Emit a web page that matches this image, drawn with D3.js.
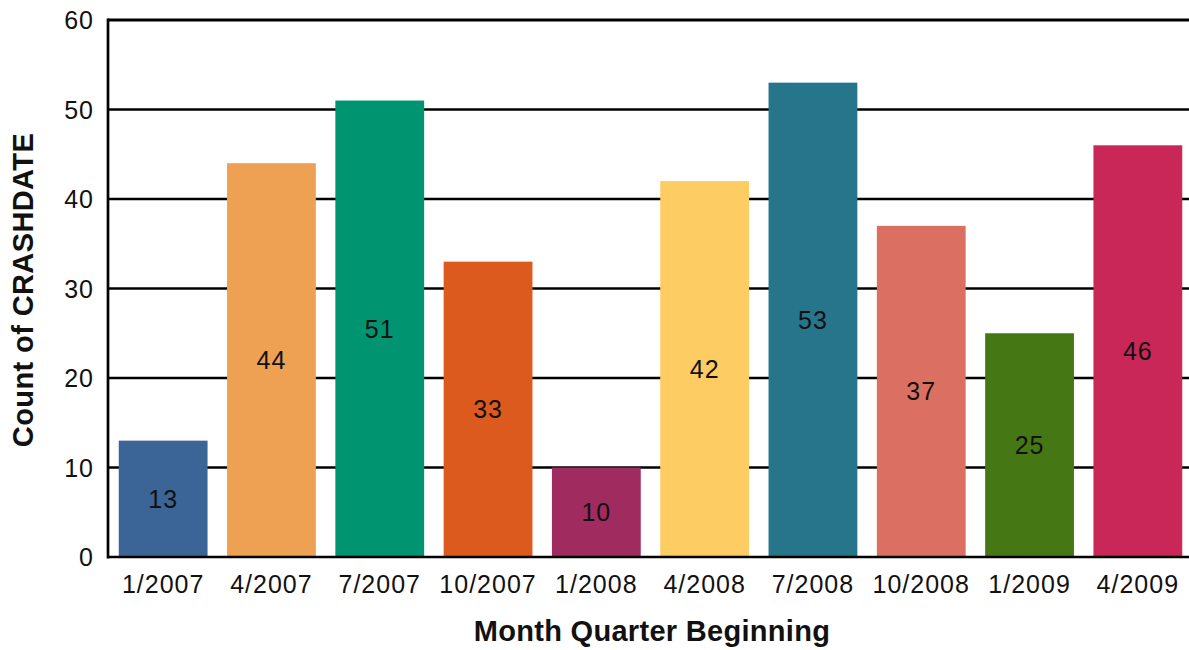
<!DOCTYPE html>
<html><head><meta charset="utf-8">
<script src="https://cdn.jsdelivr.net/npm/d3@7"></script>
<style>body{margin:0;background:#fff}svg{display:block}text{font-family:"Liberation Sans",Arial,sans-serif}</style>
</head><body><svg id="c" width="1189" height="650"></svg>
<script>
const categories = ["1/2007","4/2007","7/2007","10/2007","1/2008","4/2008","7/2008","10/2008","1/2009","4/2009"];
const values = [13,44,51,33,10,42,53,37,25,46];
const colors = ["#3b6596","#eea152","#009470","#dd5a1f","#a02b5f","#fdcc62","#27758a","#db7062","#467715","#c82757"];
const yTicks = [0,10,20,30,40,50,60];

const svg = d3.select("#c");
const L = 108, T = 20, B = 557, R = 1189;
const x = d3.scaleBand().domain(categories).range([109, 1192]).paddingInner(0.18).paddingOuter(0.09);
const y = d3.scaleLinear().domain([0,60]).range([B, T]);

// gridlines
svg.append("g").selectAll("line").data(yTicks.filter(d=>d>0)).join("line")
  .attr("x1", L).attr("x2", R).attr("y1", d=>y(d)).attr("y2", d=>y(d))
  .attr("stroke", "#000").attr("stroke-width", d=>d===60?3:2.5);

// bars
svg.append("g").selectAll("rect").data(values).join("rect")
  .attr("x", (d,i)=>x(categories[i])).attr("width", x.bandwidth())
  .attr("y", d=>y(d)).attr("height", d=>B - y(d))
  .attr("fill", (d,i)=>colors[i]);

// value labels
svg.append("g").selectAll("text").data(values).join("text")
  .attr("x", (d,i)=>x(categories[i]) + x.bandwidth()/2)
  .attr("y", d=>(y(d)+B)/2 + 9)
  .attr("text-anchor","middle").attr("font-size",25).attr("letter-spacing",1)
  .attr("fill","#111").text(d=>d);

// axes lines
svg.append("line").attr("x1",L).attr("x2",L).attr("y1",T-1.5).attr("y2",B+1.5).attr("stroke","#000").attr("stroke-width",2.7);
svg.append("line").attr("x1",L).attr("x2",R).attr("y1",B).attr("y2",B).attr("stroke","#000").attr("stroke-width",2.7);

// y tick labels
const yAxis = d3.axisLeft(y).tickValues(yTicks).tickSize(0).tickPadding(14);
const gy = svg.append("g").attr("transform",`translate(${L},0)`).call(yAxis);
gy.select(".domain").remove();
gy.selectAll("text").attr("font-size",25).attr("letter-spacing",1).attr("fill","#111").attr("font-family",null).attr("dy","0.35em");

// x tick labels
const xAxis = d3.axisBottom(x).tickSize(0).tickPadding(18);
const gx = svg.append("g").attr("transform",`translate(0,${B})`).call(xAxis);
gx.select(".domain").remove();
gx.selectAll("text").attr("font-size",25).attr("letter-spacing",1).attr("fill","#111").attr("font-family",null);

// titles
svg.append("text").attr("x",652).attr("y",641).attr("text-anchor","middle")
  .attr("font-size",29).attr("font-weight","bold").attr("letter-spacing",0.3).attr("fill","#111")
  .text("Month Quarter Beginning");
svg.append("text").attr("transform","translate(33,290) rotate(-90)").attr("text-anchor","middle")
  .attr("font-size",29).attr("font-weight","bold").attr("letter-spacing",0.4).attr("fill","#111")
  .text("Count of CRASHDATE");
</script></body></html>
